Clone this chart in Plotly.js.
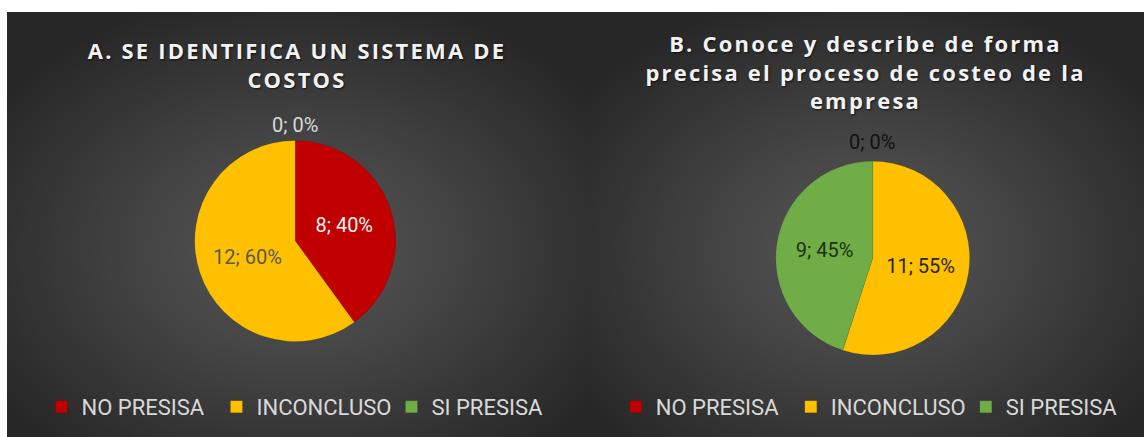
<!DOCTYPE html>
<html><head><meta charset="utf-8">
<script src="https://cdn.plot.ly/plotly-3.0.1.min.js"></script>
<style>
html,body{margin:0;padding:0;background:#ffffff;width:1144px;height:437px;overflow:hidden}
.panel{position:absolute;top:12px;height:425px;
  background:radial-gradient(ellipse 62% 62% at 50% 56%, #595959 0%, #3e3e3e 55%, #272727 100%);}
#chartA{left:7px;width:580px}
#chartB{left:587px;width:557px}
.gtitle{letter-spacing:2.2px}
</style></head>
<body>
<div id="chartA" class="panel"></div>
<div id="chartB" class="panel"></div>
<script>
// ---- data ----
const categories = ['NO PRESISA', 'INCONCLUSO', 'SI PRESISA'];
const valuesA = [8, 12, 0];
const valuesB = [0, 11, 9];
const titleA = 'A. SE IDENTIFICA UN SISTEMA DE<br>COSTOS';
const titleB = 'B. Conoce y describe de forma<br>precisa el proceso de costeo de la<br>empresa';

// ---- style ----
const sliceColors = ['#C00000', '#FFC000', '#70AD47'];
const labelFont = 'Roboto, Arial, sans-serif';
const titleFont = 'Open Sans, Lato, sans-serif';

function makePie(divId, values, title, labelColors, dom, legendX, titleY, zeroPos) {
  const total = values.reduce((a, b) => a + b, 0);
  const trace = {
    type: 'pie',
    labels: categories,
    values: values,
    sort: false,
    direction: 'clockwise',
    rotation: 0,
    marker: {colors: sliceColors, line: {color: 'rgba(0,0,0,0.15)', width: 0.5}},
    texttemplate: values.map(v => v === 0 ? '' : '%{value}; %{percent:.0%}'),
    textposition: 'inside',
    insidetextorientation: 'horizontal',
    textfont: {family: labelFont, size: 20, color: labelColors},
    hoverinfo: 'none',
    showlegend: true,
    domain: dom
  };
  // zero-value slices: their label sits above the top of the pie (as in the original)
  const annotations = [];
  values.forEach((v, i) => {
    if (v === 0) {
      annotations.push({
        xref: 'paper', yref: 'paper', x: zeroPos[0], y: zeroPos[1],
        xanchor: 'center', yanchor: 'middle', showarrow: false,
        text: v + '; ' + Math.round(100 * v / total) + '%',
        font: {family: labelFont, size: 20, color: labelColors[i]}
      });
    }
  });
  const layout = {
    width: parseInt(getComputedStyle(document.getElementById(divId)).width),
    height: 425,
    margin: {l: 0, r: 0, t: 0, b: 0},
    paper_bgcolor: 'rgba(0,0,0,0)',
    plot_bgcolor: 'rgba(0,0,0,0)',
    title: {
      text: title,
      font: {family: titleFont, size: 22, weight: 700, color: '#F2F2F2',
             shadow: '1px 1px 2px rgba(0,0,0,0.7)'},
      x: 0.5, xanchor: 'center',
      yref: 'container', y: titleY, yanchor: 'top'
    },
    legend: {
      orientation: 'h',
      x: legendX, xanchor: 'center',
      y: 30 / 425, yanchor: 'middle',
      font: {family: labelFont, size: 22, color: '#D9D9D9'},
      entrywidth: 130,
      traceorder: 'normal',
      bgcolor: 'rgba(0,0,0,0)'
    },
    annotations: annotations,
    showlegend: true
  };
  Plotly.newPlot(divId, [trace], layout, {staticPlot: true, displayModeBar: false});
}

makePie('chartA', valuesA, titleA, ['#F2F2F2', '#5A5A50', '#D9D9D9'],
  {x: [0.197, 0.797], y: [0.2247, 0.6976]}, 0.512, 1 - 47 / 425, [0.4966, 0.734]);
makePie('chartB', valuesB, titleB, ['#111111', '#262626', '#1C3012'],
  {x: [0.313, 0.713], y: [0.193, 0.649]}, 0.523, 1 - 40 / 425, [0.5117, 0.694]);
</script>
</body></html>
